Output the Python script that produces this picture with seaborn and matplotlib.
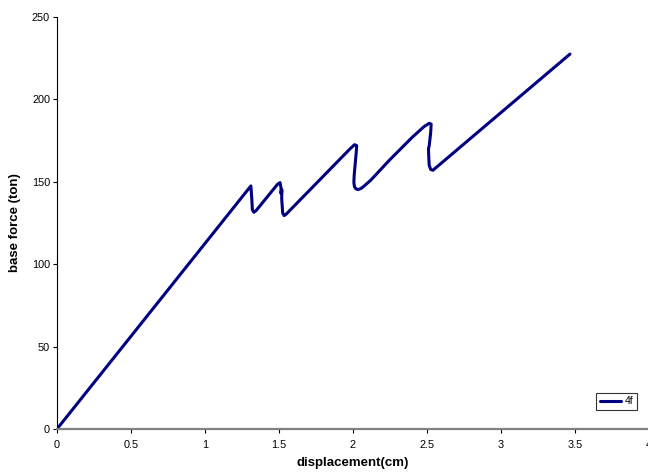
import matplotlib
matplotlib.use("Agg")
import matplotlib.pyplot as plt
import numpy as np
import pandas as pd
import seaborn as sns
from matplotlib.ticker import FuncFormatter, MultipleLocator

# pushover curve (displacement in cm, base force in ton)
disp = [0.0, 1.31, 1.316, 1.32, 1.33, 1.345, 1.49, 1.507, 1.514, 1.512, 1.52, 1.518,
        1.525, 1.535, 1.55, 1.98, 2.01, 2.025, 2.022, 2.015, 2.008, 2.006, 2.01, 2.02,
        2.035, 2.055, 2.08, 2.12, 2.25, 2.4, 2.48, 2.515, 2.528, 2.525, 2.515, 2.51,
        2.512, 2.515, 2.525, 2.54, 3.466]
force = [0.0, 147.5, 140.0, 133.0, 131.5, 132.5, 148.5, 149.5, 146.0, 143.0, 145.0, 140.0,
         131.0, 129.5, 130.5, 170.0, 172.5, 172.0, 168.0, 161.0, 154.0, 149.5, 147.0, 145.7,
         145.3, 146.0, 147.8, 151.0, 163.5, 177.0, 183.5, 185.5, 185.0, 180.0, 172.0, 170.0,
         165.0, 160.0, 157.5, 157.0, 227.5]
series = ["4f"] * len(disp)

df = pd.DataFrame({"displacement": disp, "force": force, "series": series})

sns.set_theme(style="white")
plt.rcParams["font.family"] = ["Liberation Sans", "DejaVu Sans"]

fig = plt.figure(figsize=(6.48, 4.75), dpi=100)
ax = fig.add_axes([57 / 648, 46 / 475, 592 / 648, 412 / 475])

sns.lineplot(data=df, x="displacement", y="force", hue="series", palette=["#000080"],
             sort=False, estimator=None, linewidth=2.2, ax=ax)

ax.set_xlim(0, 4)
ax.set_ylim(0, 250)
ax.xaxis.set_major_locator(MultipleLocator(0.5))
ax.yaxis.set_major_locator(MultipleLocator(50))
ax.xaxis.set_major_formatter(FuncFormatter(lambda v, _: f"{v:g}"))

for side in ("top", "right"):
    ax.spines[side].set_visible(False)
ax.spines["left"].set_color("black")
ax.spines["left"].set_linewidth(0.8)
ax.spines["bottom"].set_color("#808080")
ax.spines["bottom"].set_linewidth(1.6)

ax.tick_params(axis="both", direction="out", length=3, width=0.8, color="black",
               labelsize=7.8, labelcolor="black", left=True, bottom=True)
ax.tick_params(axis="x", pad=5)
ax.tick_params(axis="y", pad=2)

ax.set_xlabel("displacement(cm)", fontsize=9.5, fontweight="bold", color="black", labelpad=5)
ax.set_ylabel("base force (ton)", fontsize=9.5, fontweight="bold", color="black", labelpad=8)

leg = ax.legend(loc="lower right", bbox_to_anchor=(0.98, 0.046), fontsize=7.5,
                frameon=True, fancybox=False, handlelength=2.0, handletextpad=0.4,
                borderpad=0.35, borderaxespad=0)
leg.get_frame().set_edgecolor("black")
leg.get_frame().set_linewidth(0.8)
for t in leg.get_texts():
    t.set_color("black")

fig.savefig("out.png", dpi=100)
